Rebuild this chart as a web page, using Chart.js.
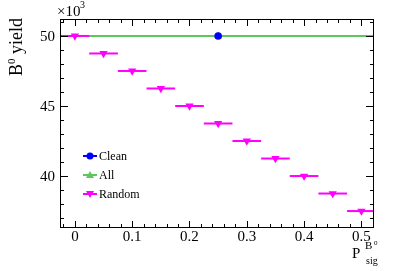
<!DOCTYPE html>
<html>
<head>
  <meta charset="UTF-8">
  <title>B0 yield vs P_sig</title>
  <script src="https://cdn.jsdelivr.net/npm/chart.js"></script>
  <style>
    html, body { margin: 0; padding: 0; background: #fff; }
  </style>
</head>
<body>
  <canvas id="chart" width="399" height="271"></canvas>

  <script>
    // data
    const randomX = [0, 0.05, 0.1, 0.15, 0.2, 0.25, 0.3, 0.35, 0.4, 0.45, 0.5];
    const randomY = [50000, 48750, 47500, 46250, 45000, 43750, 42500, 41250, 40000, 38750, 37500];
    const randomXErr = 0.025;
    const cleanX = [0.25];
    const cleanY = [50000];
    const allX = [0.25];
    const allY = [50000];
    const allXErr = 0.275;
    const xTicks = [0, 0.1, 0.2, 0.3, 0.4, 0.5];
    const xTickLabels = ['0', '0.1', '0.2', '0.3', '0.4', '0.5'];
    const yTicks = [40000, 45000, 50000];
    const yTickLabels = ['40', '45', '50'];

    const SERIF = '"Liberation Serif", "DejaVu Serif", serif';
    const MAGENTA = '#ff00ff', GREEN = '#5cc85c', BLUE = '#0000ff';

    const toPts = (xs, ys) => xs.map((x, i) => ({ x: x, y: ys[i] }));

    // horizontal error bars
    const errBars = {
      id: 'errBars',
      beforeDatasetsDraw(chart) {
        const { ctx, scales: { x, y }, chartArea: a } = chart;
        ctx.save();
        ctx.beginPath();
        ctx.rect(a.left, a.top, a.right - a.left, a.bottom - a.top);
        ctx.clip();
        ctx.lineWidth = 2;
        const bars = [[allX, allY, allXErr, GREEN], [randomX, randomY, randomXErr, MAGENTA]];
        bars.forEach(([xs, ys, e, col]) => {
          ctx.strokeStyle = col;
          xs.forEach((xv, i) => {
            const py = y.getPixelForValue(ys[i]);
            ctx.beginPath();
            ctx.moveTo(x.getPixelForValue(xv - e), py);
            ctx.lineTo(x.getPixelForValue(xv + e), py);
            ctx.stroke();
          });
        });
        ctx.restore();
      }
    };

    // ROOT style frame, inside ticks, labels, titles and legend
    const rootStyle = {
      id: 'rootStyle',
      afterDraw(chart) {
        const { ctx, scales: { x, y }, chartArea: a } = chart;
        const L = Math.round(a.left), R = Math.round(a.right);
        const T = Math.round(a.top), B = Math.round(a.bottom);
        ctx.save();
        ctx.fillStyle = '#000';
        // frame
        ctx.fillRect(L, T, R - L, 1);
        ctx.fillRect(L, B - 1, R - L, 1);
        ctx.fillRect(L, T, 1, B - T);
        ctx.fillRect(R - 1, T, 1, B - T);

        // ticks on all four sides
        for (let v = 37000; v <= 51000; v += 1000) {
          const py = Math.round(y.getPixelForValue(v));
          const len = v % 5000 === 0 ? 8 : 4;
          ctx.fillRect(L, py, len, 1);
          ctx.fillRect(R - len, py, len, 1);
        }
        for (let k = -1; k <= 26; k++) {
          const px = Math.round(x.getPixelForValue(k * 0.02));
          if (px < L || px > R - 1) continue;
          const len = k % 5 === 0 ? 7 : 4;
          ctx.fillRect(px, B - len, 1, len);
          ctx.fillRect(px, T, 1, len);
        }

        // tick labels
        ctx.font = '15px ' + SERIF;
        ctx.textAlign = 'right';
        ctx.textBaseline = 'middle';
        yTicks.forEach((v, i) => ctx.fillText(yTickLabels[i], 55, y.getPixelForValue(v) + 1));
        ctx.textAlign = 'center';
        ctx.textBaseline = 'alphabetic';
        xTicks.forEach((v, i) => ctx.fillText(xTickLabels[i], x.getPixelForValue(v), 241));

        // exponent
        ctx.textAlign = 'left';
        ctx.font = '15px ' + SERIF;
        ctx.fillText('\u00d710', 57, 16);
        ctx.font = '10px ' + SERIF;
        ctx.fillText('3', 80, 8);

        // y title
        ctx.save();
        ctx.translate(22, 18);
        ctx.rotate(-Math.PI / 2);
        ctx.textAlign = 'right';
        ctx.font = '18px ' + SERIF;
        const yl = ' yield';
        ctx.fillText(yl, 0, 0);
        const w1 = ctx.measureText(yl).width;
        ctx.font = '11px ' + SERIF;
        ctx.fillText('0', -w1, -7);
        const w2 = ctx.measureText('0').width;
        ctx.font = '18px ' + SERIF;
        ctx.fillText('B', -w1 - w2, 0);
        ctx.restore();

        // x title
        ctx.textAlign = 'left';
        ctx.font = '15px ' + SERIF;
        ctx.fillText('P', 352, 258);
        ctx.font = '10px ' + SERIF;
        ctx.fillText('sig', 366, 264);
        ctx.font = '11px ' + SERIF;
        ctx.fillText('B', 365, 249);
        ctx.font = '7px ' + SERIF;
        ctx.fillText('0', 374, 245);

        // legend
        const items = [['Clean', BLUE, 'circle'], ['All', GREEN, 'up'], ['Random', MAGENTA, 'down']];
        items.forEach(([label, col, m], i) => {
          const cy = 156 + i * 19;
          ctx.strokeStyle = col;
          ctx.fillStyle = col;
          ctx.lineWidth = 2;
          ctx.beginPath();
          ctx.moveTo(83, cy); ctx.lineTo(97, cy);
          ctx.stroke();
          ctx.beginPath();
          if (m === 'circle') {
            ctx.arc(90, cy, 3.5, 0, Math.PI * 2);
          } else if (m === 'up') {
            ctx.moveTo(86, cy + 3); ctx.lineTo(94, cy + 3); ctx.lineTo(90, cy - 4);
          } else {
            ctx.moveTo(86, cy - 3); ctx.lineTo(94, cy - 3); ctx.lineTo(90, cy + 4);
          }
          ctx.closePath();
          ctx.fill();
          ctx.fillStyle = '#000';
          ctx.font = '12px ' + SERIF;
          ctx.textBaseline = 'middle';
          ctx.fillText(label, 99, cy + 1);
          ctx.textBaseline = 'alphabetic';
        });
        ctx.restore();
      }
    };

    const ctx = document.getElementById('chart').getContext('2d');
    new Chart(ctx, {
      type: 'scatter',
      data: {
        datasets: [
          {
            label: 'Clean',
            data: toPts(cleanX, cleanY),
            pointStyle: 'circle',
            pointRadius: 3.8,
            backgroundColor: BLUE,
            borderColor: BLUE,
            borderWidth: 0
          },
          {
            label: 'All',
            data: toPts(allX, allY),
            pointStyle: 'triangle',
            pointRadius: 4.5,
            backgroundColor: GREEN,
            borderColor: GREEN,
            borderWidth: 0
          },
          {
            label: 'Random',
            data: toPts(randomX, randomY),
            pointStyle: 'triangle',
            rotation: 180,
            pointRadius: 4.8,
            backgroundColor: MAGENTA,
            borderColor: MAGENTA,
            borderWidth: 0
          }
        ]
      },
      options: {
        responsive: false,
        animation: false,
        layout: { padding: { top: 19, right: 25, left: 0, bottom: 0 } },
        plugins: { legend: { display: false }, tooltip: { enabled: false } },
        scales: {
          x: {
            type: 'linear',
            min: -0.026,
            max: 0.522,
            grid: { display: false },
            border: { display: false },
            ticks: { display: false },
            afterBuildTicks(s) { s.ticks = xTicks.map(v => ({ value: v })); },
            afterFit(s) { s.height = 43; }
          },
          y: {
            min: 36290,
            max: 51210,
            grid: { display: false },
            border: { display: false },
            ticks: { display: false },
            afterBuildTicks(s) { s.ticks = yTicks.map(v => ({ value: v })); },
            afterFit(s) { s.width = 60; }
          }
        }
      },
      plugins: [errBars, rootStyle]
    });
  </script>
</body>
</html>
